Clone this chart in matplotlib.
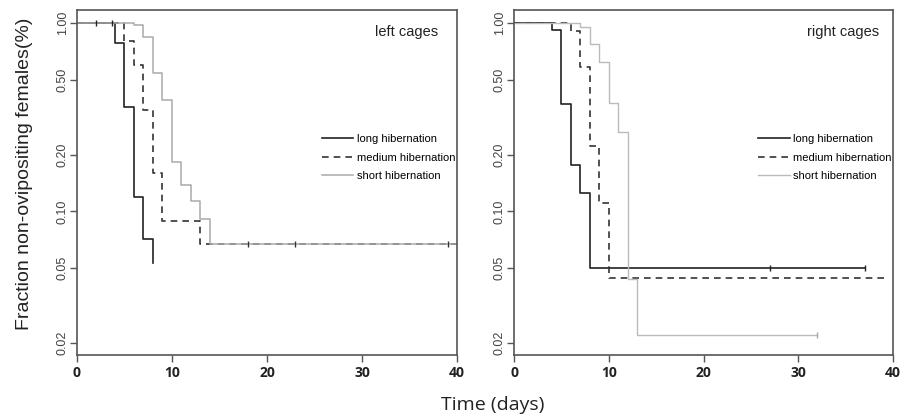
import numpy as np
import matplotlib
matplotlib.use("Agg")
import matplotlib.pyplot as plt

# ---- data (Kaplan-Meier steps) ----
yticks = [0.02, 0.05, 0.10, 0.20, 0.50, 1.00]
ytick_labels = ['0.02', '0.05', '0.10', '0.20', '0.50', '1.00']
xticks = [0, 10, 20, 30, 40]
labels = ['long hibernation', 'medium hibernation', 'short hibernation']

# left cages
left_long_t = [0, 4, 5, 6, 7, 8]
left_long_s = [1.0, 0.78, 0.356, 0.119, 0.071, 0.053]
left_long_cens_t = [2, 3.7]
left_long_cens_s = [1.0, 1.0]

left_med_t = [0, 5, 6, 7, 8, 9, 13, 40]
left_med_s = [1.0, 0.80, 0.60, 0.345, 0.159, 0.089, 0.067, 0.067]
left_med_cens_t = [18, 23, 39]
left_med_cens_s = [0.067, 0.067, 0.067]

left_short_t = [0, 6, 7, 8, 9, 10, 11, 12, 13, 14, 40]
left_short_s = [1.0, 0.97, 0.845, 0.545, 0.39, 0.182, 0.138, 0.114, 0.0915, 0.067, 0.067]

# right cages
right_long_t = [0, 4, 5, 6, 7, 8, 37]
right_long_s = [1.0, 0.915, 0.37, 0.176, 0.125, 0.050, 0.050]
right_long_cens_t = [27, 37]
right_long_cens_s = [0.050, 0.050]

right_med_t = [0, 6, 7, 8, 9, 10, 39.5]
right_med_s = [1.0, 0.91, 0.58, 0.223, 0.111, 0.0442, 0.0442]

right_short_t = [0, 7, 8, 9, 10, 11, 12, 13, 32]
right_short_s = [1.0, 0.95, 0.77, 0.618, 0.374, 0.264, 0.044, 0.022, 0.022]
right_short_cens_t = [32]
right_short_cens_s = [0.022]

fig = plt.figure(figsize=(9.12, 4.18), dpi=100)
ax1 = fig.add_axes([0.0844, 0.1507, 0.4167, 0.8254])
ax2 = fig.add_axes([0.5636, 0.1507, 0.4156, 0.8254])

black = '#222222'
dash_col = '#333333'
dash = (0, (4, 3))


def style_axes(ax, title, tx):
    ax.set_yscale('log')
    ax.set_xlim(0, 40)
    ax.set_ylim(0.0173, 1.17)
    ax.set_yticks(yticks)
    ax.set_yticklabels(ytick_labels, rotation=90, va='center',
                       fontsize=9, family='Liberation Sans', color='#444444')
    ax.yaxis.set_minor_locator(matplotlib.ticker.NullLocator())
    ax.set_xticks(xticks)
    ax.set_xticklabels([str(x) for x in xticks], fontsize=10,
                       family='Open Sans', fontweight='bold', color='#222222')
    ax.tick_params(axis='y', length=5, width=1, color='#555555', pad=1)
    ax.tick_params(axis='x', length=5, width=1, color='#555555', pad=3)
    for sp in ax.spines.values():
        sp.set_color('#555555')
        sp.set_linewidth(1.2)
    ax.text(tx, 0.937, title, transform=ax.transAxes, ha='right', va='center',
            fontsize=10.5, family='Liberation Sans', color='#222222')


# left panel
ax1.step(left_long_t, left_long_s, where='post', color=black, lw=1.2, label=labels[0])
ax1.step(left_med_t, left_med_s, where='post', color=dash_col, lw=1.2, linestyle=dash, label=labels[1])
ax1.step(left_short_t, left_short_s, where='post', color='#aaaaaa', lw=1.1, label=labels[2])
ax1.plot(left_long_cens_t, left_long_cens_s, '|', color=black, ms=5, mew=1)
ax1.plot(left_med_cens_t, left_med_cens_s, '|', color=dash_col, ms=5, mew=1)
style_axes(ax1, 'left cages', 0.95)

# right panel
ax2.step(right_long_t, right_long_s, where='post', color=black, lw=1.2, label=labels[0])
ax2.step(right_med_t, right_med_s, where='post', color=dash_col, lw=1.2, linestyle=dash, label=labels[1])
ax2.step(right_short_t, right_short_s, where='post', color='#bbbbbb', lw=1.0, label=labels[2])
ax2.plot(right_long_cens_t, right_long_cens_s, '|', color=black, ms=5, mew=1)
ax2.plot(right_short_cens_t, right_short_cens_s, '|', color='#aaaaaa', ms=5, mew=1)
style_axes(ax2, 'right cages', 0.963)

for ax in (ax1, ax2):
    leg = ax.legend(loc='upper left', bbox_to_anchor=(0.645, 0.64), frameon=False,
                    prop={'family': 'Liberation Sans', 'size': 8},
                    handlelength=2.8, handletextpad=0.3, labelspacing=0.75,
                    borderpad=0, borderaxespad=0)

fig.text(0.0274, 0.584, 'Fraction non-ovipositing females(%)', rotation=90,
         ha='center', va='center', fontsize=14, family='Liberation Sans', color='#222222')
fig.text(0.54, 0.031, 'Time (days)', ha='center', va='center', fontsize=14,
         family='Open Sans', color='#222222')

fig.savefig('out.png', dpi=100)
